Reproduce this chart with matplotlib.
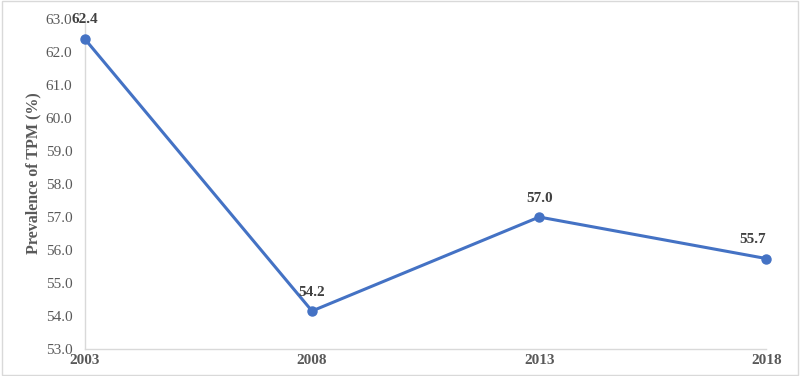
import matplotlib.pyplot as plt

years = ["2003", "2008", "2013", "2018"]
prevalence = [62.4, 54.15, 57.0, 55.74]
labels = ["62.4", "54.2", "57.0", "55.7"]
yticks = [53.0, 54.0, 55.0, 56.0, 57.0, 58.0, 59.0, 60.0, 61.0, 62.0, 63.0]

plt.rcParams["font.family"] = ["Liberation Serif", "DejaVu Serif"]

fig = plt.figure(figsize=(8, 3.76), dpi=100)
ax = fig.add_axes([0.106, 0.072, 0.852, 0.877])

x = range(len(years))
ax.plot(x, prevalence, color="#4472C4", linewidth=2.2, marker="o",
        markersize=6.5, clip_on=False, zorder=3)

# data labels above each point, last one pulled slightly left
offsets = [(0, 9), (0, 9), (0, 9), (-10, 9)]
for xi, yi, lab, off in zip(x, prevalence, labels, offsets):
    ax.annotate(lab, (xi, yi), xytext=off, textcoords="offset points",
                ha="center", va="bottom", fontsize=11, fontweight="bold",
                color="#404040", annotation_clip=False)

ax.set_xlim(0, len(years) - 1)
ax.set_ylim(53, 63)
ax.set_xticks(list(x))
ax.set_xticklabels(years, fontweight="bold", fontsize=11, color="#595959")
ax.set_yticks(yticks)
ax.set_yticklabels([f"{v:.1f}" for v in yticks], fontsize=11, color="#595959")
ax.tick_params(axis="y", length=0, pad=9)
ax.tick_params(axis="x", length=0, pad=4)

for side in ["top", "right"]:
    ax.spines[side].set_visible(False)
for side in ["left", "bottom"]:
    ax.spines[side].set_color("#D9D9D9")
    ax.spines[side].set_linewidth(1.0)

ax.set_ylabel("Prevalence of TPM (%)", fontsize=11.5, fontweight="bold",
              color="#595959")
ax.yaxis.set_label_coords(-0.063, 0.533)

fig.patches.append(plt.Rectangle((0.002, 0.003), 0.996, 0.994,
                                 transform=fig.transFigure, fill=False,
                                 edgecolor="#D9D9D9", linewidth=1.0))

fig.savefig("out.png", dpi=100)
